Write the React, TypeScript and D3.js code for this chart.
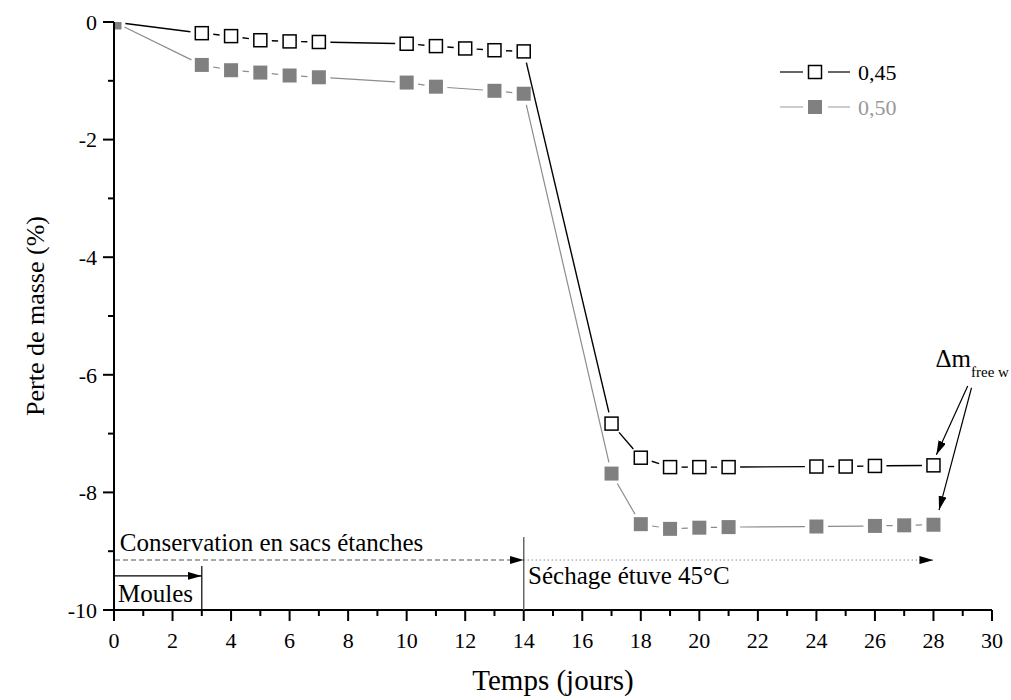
import React from "react";
import * as d3 from "d3";

const days045 = [0, 3, 4, 5, 6, 7, 10, 11, 12, 13, 14, 17, 18, 19, 20, 21, 24, 25, 26, 28];
const loss045 = [0, -0.19, -0.24, -0.31, -0.33, -0.34, -0.37, -0.41, -0.45, -0.48, -0.5, -6.83, -7.41, -7.57, -7.57, -7.57, -7.56, -7.56, -7.55, -7.54];
const days050 = [0, 3, 4, 5, 6, 7, 10, 11, 13, 14, 17, 18, 19, 20, 21, 24, 26, 27, 28];
const loss050 = [0, -0.73, -0.82, -0.86, -0.91, -0.94, -1.03, -1.1, -1.17, -1.22, -7.68, -8.54, -8.62, -8.6, -8.59, -8.58, -8.57, -8.56, -8.55];
const xTicks = [0, 2, 4, 6, 8, 10, 12, 14, 16, 18, 20, 22, 24, 26, 28, 30];
const yTicks = [0, -2, -4, -6, -8, -10];
const seriesNames = ["0,45", "0,50"];

const W = 1011, H = 700;
const FONT = "Liberation Serif, DejaVu Serif, serif";
const GRAY = "#808080";

export default function App() {
  const x = d3.scaleLinear().domain([0, 30]).range([114, 992]);
  const y = d3.scaleLinear().domain([-10, 0]).range([610, 22]);
  const x0 = x(0), y0 = y(-10);

  const segs = (xs: number[], ys: number[], gap: number) => {
    const out: { x1: number; y1: number; x2: number; y2: number }[] = [];
    for (let i = 0; i < xs.length - 1; i++) {
      const ax = x(xs[i]), ay = y(ys[i]), bx = x(xs[i + 1]), by = y(ys[i + 1]);
      const dx = bx - ax, dy = by - ay, len = Math.hypot(dx, dy);
      if (len <= 2 * gap) continue;
      const ux = dx / len, uy = dy / len;
      out.push({ x1: ax + ux * gap, y1: ay + uy * gap, x2: bx - ux * gap, y2: by - uy * gap });
    }
    return out;
  };

  const s045 = segs(days045, loss045, 11.5);
  const s050 = segs(days050, loss050, 11.5);
  const minorX = d3.range(0, 31, 1).filter((v) => v % 2 !== 0);
  const minorY = d3.range(-10, 1, 1).filter((v) => v % 2 !== 0);
  const ts = { fontFamily: FONT };

  return (
    <svg width={W} height={H} style={{ position: "absolute", left: 0, top: 0, background: "#fff", fontFamily: FONT }}>
      <style>{`text { font-family: "Liberation Serif", "DejaVu Serif", serif; }`}</style>
      <defs>
        <clipPath id="plotclip">
          <rect x={x0} y={y(0)} width={W - x0} height={y0 - y(0)} />
        </clipPath>
        <marker id="ah" viewBox="0 0 14 8" refX="14" refY="4" markerWidth="14" markerHeight="8" markerUnits="userSpaceOnUse" orient="auto">
          <path d="M0,0 L14,4 L0,8 Z" fill="#000" />
        </marker>
      </defs>

      {/* series lines */}
      <g clipPath="url(#plotclip)">
        {s050.map((s, i) => (
          <line key={"g" + i} {...s} stroke="#8c8c8c" strokeWidth={1.2} />
        ))}
        {s045.map((s, i) => (
          <line key={"b" + i} {...s} stroke="#000" strokeWidth={1.4} />
        ))}
        {days045.map((d, i) => (
          <rect key={"m45" + i} x={x(d) - 6.5} y={y(loss045[i]) - 6.5} width={13} height={13} fill="#fff" stroke="#000" strokeWidth={1.5} />
        ))}
        {days050.map((d, i) => (
          <rect key={"m50" + i} x={x(d) - 7} y={y(loss050[i]) - 7} width={14} height={14} fill={GRAY} />
        ))}
      </g>

      {/* axes */}
      <line x1={x0} y1={y0} x2={x(30)} y2={y0} stroke="#000" strokeWidth={2} />
      <line x1={x0} y1={y(0)} x2={x0} y2={y0 + 1} stroke="#000" strokeWidth={2} />
      {xTicks.map((t) => (
        <g key={"xt" + t}>
          <line x1={x(t)} x2={x(t)} y1={y0} y2={y0 + 11} stroke="#000" strokeWidth={2} />
          <text style={ts} x={x(t)} y={y0 + 38} textAnchor="middle" fontSize={22}>{t}</text>
        </g>
      ))}
      {minorX.map((t) => (
        <line key={"xm" + t} x1={x(t)} x2={x(t)} y1={y0} y2={y0 + 6} stroke="#000" strokeWidth={2} />
      ))}
      {yTicks.map((t) => (
        <g key={"yt" + t}>
          <line x1={x0 - 11} x2={x0} y1={y(t)} y2={y(t)} stroke="#000" strokeWidth={2} />
          <text style={ts} x={x0 - 17} y={y(t)} dy="0.35em" textAnchor="end" fontSize={22}>{t === 0 ? "0" : "-" + Math.abs(t)}</text>
        </g>
      ))}
      {minorY.map((t) => (
        <line key={"ym" + t} x1={x0 - 6} x2={x0} y1={y(t)} y2={y(t)} stroke="#000" strokeWidth={2} />
      ))}

      {/* axis titles */}
      <text style={ts} x={(x(0) + x(30)) / 2} y={690} textAnchor="middle" fontSize={29}>Temps (jours)</text>
      <text style={ts} transform={`translate(44, ${(y(0) + y(-10)) / 2}) rotate(-90)`} textAnchor="middle" fontSize={26}>Perte de masse (%)</text>

      {/* period annotations */}
      <line x1={x(3)} x2={x(3)} y1={y(-9.25)} y2={y0} stroke="#000" strokeWidth={1.2} />
      <line x1={x(14)} x2={x(14)} y1={y(-8.76)} y2={y0} stroke="#666" strokeWidth={1.5} />
      <line x1={x(0) + 1} x2={x(3)} y1={y(-9.42)} y2={y(-9.42)} stroke="#000" strokeWidth={1.2} markerEnd="url(#ah)" />
      <line x1={x(0) + 1} x2={x(14)} y1={y(-9.15)} y2={y(-9.15)} stroke="#555" strokeWidth={1.2} strokeDasharray="5,3" markerEnd="url(#ah)" />
      <line x1={x(14)} x2={x(28)} y1={y(-9.15)} y2={y(-9.15)} stroke="#555" strokeWidth={1} strokeDasharray="1,3" markerEnd="url(#ah)" />
      <text style={ts} x={x(0.2)} y={y(-8.99)} fontSize={25}>Conservation en sacs étanches</text>
      <text style={ts} x={x(0.14)} y={y(-9.86)} fontSize={25}>Moules</text>
      <text style={ts} x={x(14.15)} y={y(-9.56)} fontSize={25}>Séchage étuve 45°C</text>

      {/* delta m annotation */}
      <text style={ts} x={x(28.07)} y={y(-5.87)} fontSize={25}>
        Δm<tspan fontSize={15} dy={10}>free w</tspan>
      </text>
      <line x1={x(29.17)} y1={y(-6.19)} x2={x(28.1)} y2={y(-7.36)} stroke="#000" strokeWidth={1.2} markerEnd="url(#ah)" />
      <line x1={x(29.3)} y1={y(-6.22)} x2={x(28.19)} y2={y(-8.3)} stroke="#000" strokeWidth={1.2} markerEnd="url(#ah)" />

      {/* legend */}
      <g>
        <line x1={780} x2={803} y1={72} y2={72} stroke="#000" strokeWidth={1.2} />
        <line x1={828} x2={850} y1={72} y2={72} stroke="#000" strokeWidth={1.2} />
        <rect x={808.5} y={65.5} width={13} height={13} fill="#fff" stroke="#000" strokeWidth={1.5} />
        <text style={ts} x={858} y={80} fontSize={22}>{seriesNames[0]}</text>
        <line x1={780} x2={803} y1={107} y2={107} stroke="#aaa" strokeWidth={1.2} />
        <line x1={828} x2={850} y1={107} y2={107} stroke="#aaa" strokeWidth={1.2} />
        <rect x={808} y={100} width={14} height={14} fill={GRAY} />
        <text style={ts} x={858} y={115} fontSize={22} fill="#999">{seriesNames[1]}</text>
      </g>
    </svg>
  );
}
